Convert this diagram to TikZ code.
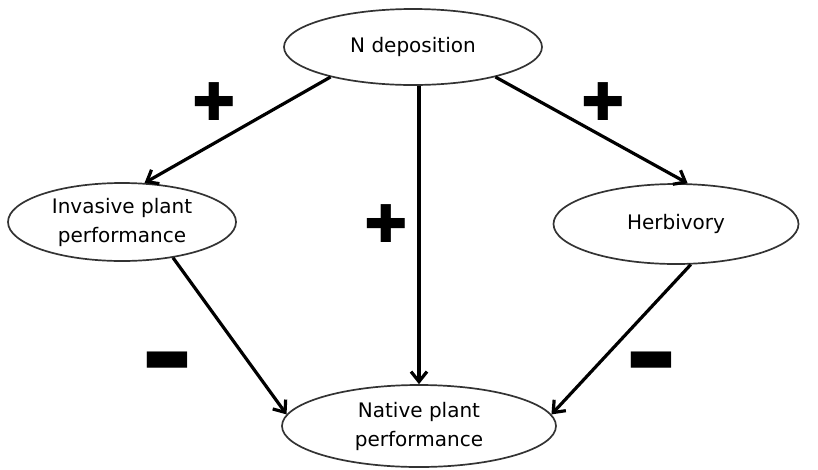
\documentclass[tikz,border=0pt]{standalone}
\usepackage{fontspec}
\setmainfont{DejaVu Sans}
\usetikzlibrary{shapes.geometric,arrows.meta}

\tikzset{
  var/.style={draw=black!80, line width=1.7pt, ellipse, align=center, inner sep=0pt,
    font=\fontsize{20}{29}\selectfont},
  link/.style={-{Straight Barb[length=10pt,width=16pt]}, line width=3.2pt},
  sign/.style={inner sep=0pt, font=\fontsize{52}{52}\selectfont}
}

\begin{document}
\begin{tikzpicture}[x=1pt, y=-1pt]
  \useasboundingbox (0,0) rectangle (818,469);
  % variables
  \node[var, minimum width=258pt, minimum height=76pt] (ndep) at (413,47) {N deposition};
  \node[var, minimum width=228pt, minimum height=78pt] (inv) at (122,222) {Invasive plant\\performance};
  \node[var, minimum width=245pt, minimum height=80pt] (herb) at (676,224) {Herbivory};
  \node[var, minimum width=274pt, minimum height=82pt] (nat) at (419,426) {Native plant\\performance};
  % effects
  \draw[link] (ndep.200) -- (inv.60);
  \draw[link] (ndep.340) -- (herb.74);
  \draw[link] (nat.north |- ndep.south) -- (nat.north);
  \draw[link] (inv.-35) -- (nat.175);
  \draw[link] (herb.-70) -- (nat.5);
  % signs
  \node[sign] (p1) at (214,102) {✚};
  \node[sign] (p2) at (603,102) {✚};
  \node[sign] (p3) at (386,224) {✚};
  \node[sign, font=\fontsize{44}{44}\selectfont] (m1) at (167,362) {\scalebox{1.2}[1]{▬}};
  \node[sign, font=\fontsize{44}{44}\selectfont] (m2) at (651,362) {\scalebox{1.2}[1]{▬}};
\end{tikzpicture}
\end{document}
